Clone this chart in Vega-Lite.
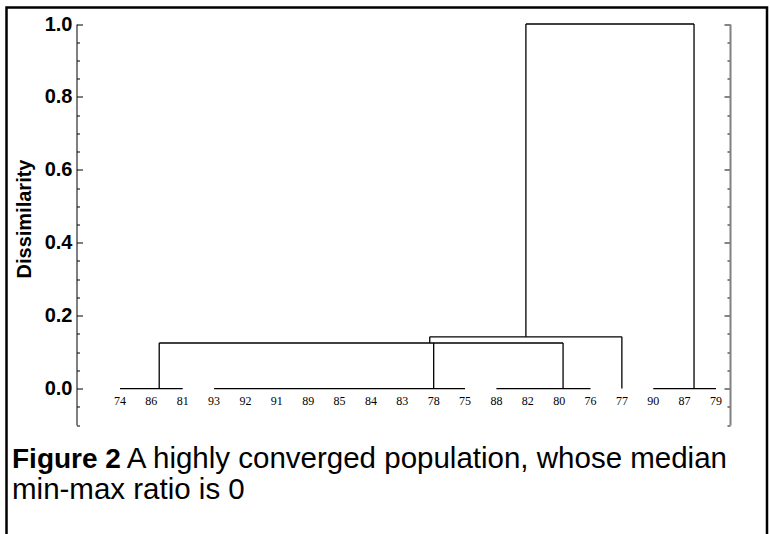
{
  "$schema": "https://vega.github.io/schema/vega-lite/v6.json",
  "width": 760.5,
  "height": 526.5,
  "autosize": {"type": "none"},
  "padding": {"left": 6.5, "top": 7.5, "right": 3, "bottom": 0},
  "background": "white",
  "title": {
    "text": "Figure 2",
    "subtitle": ["\u200b\u00a0\u00a0\u00a0\u00a0\u00a0\u00a0\u00a0\u00a0\u00a0\u00a0\u00a0\u00a0\u00a0\u00a0A highly converged population, whose median", "min-max ratio is 0"],
    "orient": "bottom",
    "anchor": "start",
    "frame": "group",
    "offset": -88,
    "dx": 5.5,
    "baseline": "top",
    "font": "Liberation Sans",
    "fontSize": 28,
    "fontWeight": "bold",
    "color": "black",
    "subtitleFont": "Liberation Sans",
    "subtitleFontSize": 29.5,
    "subtitleFontWeight": "normal",
    "subtitleColor": "black",
    "subtitlePadding": -29,
    "subtitleLineHeight": 31
  },
  "datasets": {
    "segments": [
      {"x1": 0, "x2": 2, "y1": 0, "y2": 0},
      {"x1": 3, "x2": 11, "y1": 0, "y2": 0},
      {"x1": 12, "x2": 15, "y1": 0, "y2": 0},
      {"x1": 17, "x2": 19, "y1": 0, "y2": 0},
      {"x1": 1.25, "x2": 1.25, "y1": 0, "y2": 0.125},
      {"x1": 10, "x2": 10, "y1": 0, "y2": 0.125},
      {"x1": 14.125, "x2": 14.125, "y1": 0, "y2": 0.125},
      {"x1": 1.25, "x2": 14.125, "y1": 0.125, "y2": 0.125},
      {"x1": 9.875, "x2": 9.875, "y1": 0.125, "y2": 0.142},
      {"x1": 16, "x2": 16, "y1": 0, "y2": 0.142},
      {"x1": 9.875, "x2": 16, "y1": 0.142, "y2": 0.142},
      {"x1": 12.94, "x2": 12.94, "y1": 0.142, "y2": 1.0},
      {"x1": 18.3, "x2": 18.3, "y1": 0, "y2": 1.0},
      {"x1": 12.94, "x2": 18.3, "y1": 1.0, "y2": 1.0}
    ],
    "leaves": [
      {"i": 0, "label": "74", "height": 0},
      {"i": 1, "label": "86", "height": 0},
      {"i": 2, "label": "81", "height": 0},
      {"i": 3, "label": "93", "height": 0},
      {"i": 4, "label": "92", "height": 0},
      {"i": 5, "label": "91", "height": 0},
      {"i": 6, "label": "89", "height": 0},
      {"i": 7, "label": "85", "height": 0},
      {"i": 8, "label": "84", "height": 0},
      {"i": 9, "label": "83", "height": 0},
      {"i": 10, "label": "78", "height": 0},
      {"i": 11, "label": "75", "height": 0},
      {"i": 12, "label": "88", "height": 0},
      {"i": 13, "label": "82", "height": 0},
      {"i": 14, "label": "80", "height": 0},
      {"i": 15, "label": "76", "height": 0},
      {"i": 16, "label": "77", "height": 0},
      {"i": 17, "label": "90", "height": 0},
      {"i": 18, "label": "87", "height": 0},
      {"i": 19, "label": "79", "height": 0}
    ]
  },
  "resolve": {"axis": {"y": "independent"}},
  "layer": [
    {
      "data": {"name": "segments"},
      "mark": {"type": "rule", "color": "black", "strokeWidth": 1.3},
      "encoding": {
        "x": {"field": "x1", "type": "quantitative", "scale": {"domain": [-1.387, 19.447], "range": [70, 723.5], "nice": false, "zero": false}, "axis": null},
        "x2": {"field": "x2"},
        "y": {
          "field": "y1", "type": "quantitative",
          "scale": {"domain": [-0.1, 1.0], "range": [417.5, 16.5], "nice": false, "zero": false},
          "axis": {
            "orient": "left",
            "offset": -70,
            "values": [-0.1, -0.05, 0, 0.05, 0.1, 0.15, 0.2, 0.25, 0.3, 0.35, 0.4, 0.45, 0.5, 0.55, 0.6, 0.65, 0.7, 0.75, 0.8, 0.85, 0.9, 0.95, 1.0],
            "grid": false,
            "domain": true,
            "domainColor": "black",
            "domainWidth": 1,
            "ticks": true,
            "tickColor": "black",
            "tickWidth": 1,
            "tickSize": {"condition": {"test": "abs(datum.value*5 - round(datum.value*5)) < 0.001", "value": -6}, "value": -3},
            "labelExpr": "abs(datum.value*5 - round(datum.value*5)) < 0.001 ? format(datum.value, '.1f') : ''",
            "labelFont": "Liberation Sans",
            "labelFontWeight": "bold",
            "labelFontSize": 20,
            "labelColor": "black",
            "labelPadding": 10.5,
            "labelFlush": false,
            "labelOverlap": false,
            "title": "Dissimilarity",
            "titleFont": "Liberation Sans",
            "titleFontSize": 20,
            "titleFontWeight": "bold",
            "titleColor": "black",
            "titleAngle": 270,
            "titleAlign": "center",
            "titleBaseline": "middle",
            "titleX": -52,
            "titleY": 211
          }
        },
        "y2": {"field": "y2"}
      }
    },
    {
      "data": {"name": "leaves"},
      "mark": {"type": "text", "font": "Liberation Serif", "fontSize": 12, "color": "black", "baseline": "alphabetic", "align": "center", "dy": 16},
      "encoding": {
        "x": {"field": "i", "type": "quantitative"},
        "y": {
          "field": "height", "type": "quantitative",
          "axis": {
            "orient": "right",
            "offset": -37,
            "values": [-0.1, -0.05, 0, 0.05, 0.1, 0.15, 0.2, 0.25, 0.3, 0.35, 0.4, 0.45, 0.5, 0.55, 0.6, 0.65, 0.7, 0.75, 0.8, 0.85, 0.9, 0.95, 1.0],
            "grid": false,
            "domain": true,
            "domainColor": "#808080",
            "domainWidth": 2,
            "ticks": true,
            "tickColor": "#333333",
            "tickWidth": 1.2,
            "tickSize": {"condition": {"test": "abs(datum.value*5 - round(datum.value*5)) < 0.001", "value": -6}, "value": -3},
            "labels": false,
            "title": null
          }
        },
        "text": {"field": "label"}
      }
    }
  ],
  "config": {
    "view": {"stroke": "black", "strokeWidth": 2.5, "strokeDash": [1287, 760.5, 526.5]},
    "font": "Liberation Sans"
  }
}
